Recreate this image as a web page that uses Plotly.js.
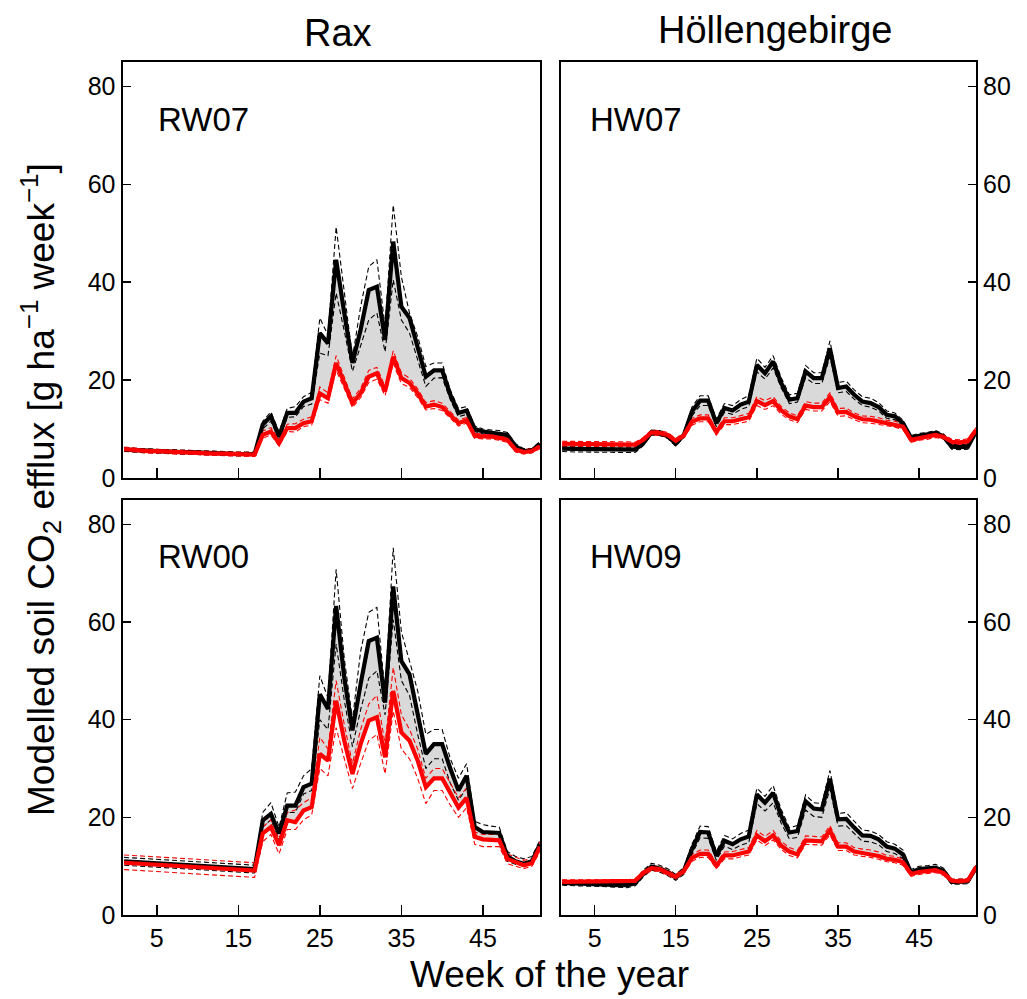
<!DOCTYPE html>
<html>
<head>
<meta charset="utf-8">
<script src="https://cdn.plot.ly/plotly-3.0.1.min.js"></script>
<style>html,body{margin:0;padding:0;background:#fff;}#chart{width:1027px;height:999px;}</style>
</head>
<body>
<div id="chart"></div>
<script>
// Week of the year
const weeks = [1,2,3,4,5,6,7,8,9,10,11,12,13,14,15,16,17,18,19,20,21,22,23,24,25,26,27,28,29,30,31,32,33,34,35,36,37,38,39,40,41,42,43,44,45,46,47,48,49,50,51,52];

// RW07 (Rax, top left)
const rw07_black = [5.8,5.7,5.6,5.5,5.5,5.4,5.4,5.3,5.3,5.2,5.1,5.1,5.0,5.0,4.9,4.9,4.9,10.9,12.6,8.5,13.3,13.3,15.6,16.3,29.6,27.5,44.6,33.7,23.5,30.3,38.4,39.1,28.2,48.3,35.0,32.7,26.9,20.7,22.0,22.0,17.0,13.3,13.8,10.0,9.5,9.3,9.2,8.8,6.5,5.5,5.6,7.0];
const rw07_blackUp = [6.2,6.1,6.0,5.9,5.9,5.8,5.8,5.7,5.7,5.6,5.5,5.5,5.4,5.4,5.3,5.3,5.3,11.6,13.5,9.4,14.2,14.6,16.6,17.5,32.7,29.2,51.3,38.0,24.6,35.0,43.2,44.6,30.9,55.8,41.1,33.7,28.9,22.8,23.5,23.5,18.0,14.2,14.6,10.6,10.0,9.8,9.7,9.3,7.0,6.0,6.0,7.5];
const rw07_blackLo = [5.4,5.3,5.2,5.1,5.1,5.0,5.0,4.9,4.9,4.8,4.7,4.7,4.6,4.6,4.5,4.5,4.5,10.0,11.6,7.8,12.4,12.5,14.6,15.1,25.5,25.0,37.8,30.0,21.8,27.0,32.3,33.7,25.8,40.5,32.3,29.6,24.1,18.7,20.4,20.5,16.0,12.5,13.0,9.5,9.0,8.8,8.7,8.3,6.0,5.1,5.2,6.5];
const rw07_red = [5.9,5.7,5.6,5.5,5.5,5.4,5.3,5.3,5.2,5.2,5.1,5.0,5.0,4.9,4.9,4.8,4.8,8.8,9.5,7.1,10.2,10.2,11.2,11.6,17.3,16.3,23.5,19.4,15.3,17.3,20.7,21.4,17.7,24.8,20.4,19.4,17.3,14.6,15.0,14.5,12.8,11.2,11.8,8.6,8.5,8.5,8.2,7.8,5.8,5.3,5.5,6.5];
const rw07_redUp = [6.3,6.1,6.0,5.9,5.9,5.8,5.7,5.7,5.6,5.6,5.5,5.4,5.4,5.3,5.3,5.2,5.2,9.6,10.3,7.8,11.0,11.1,12.0,12.5,18.6,17.4,25.0,20.6,16.2,18.3,22.0,22.6,18.7,26.0,21.5,20.4,18.2,15.4,15.8,15.3,13.5,11.8,12.4,9.1,9.0,9.0,8.7,8.3,6.3,5.8,6.0,7.0];
const rw07_redLo = [5.5,5.3,5.2,5.1,5.1,5.0,4.9,4.9,4.8,4.8,4.7,4.6,4.6,4.5,4.5,4.4,4.4,8.1,8.8,6.5,9.5,9.4,10.5,10.8,16.0,15.3,22.0,18.3,14.4,16.4,19.5,20.2,16.8,23.4,19.3,18.5,16.4,13.9,14.2,13.8,12.1,10.6,11.2,8.1,8.0,8.0,7.7,7.3,5.3,4.9,5.1,6.0];

// HW07 (Höllengebirge, top right)
const hw07_black = [6.0,5.9,5.9,5.9,5.9,5.9,5.8,5.8,5.8,5.8,7.1,9.3,9.2,8.6,7.0,8.8,13.6,15.8,15.8,11.2,14.3,13.8,15.0,15.6,23.1,21.4,23.8,19.4,16.0,16.3,21.8,20.4,20.4,26.5,18.4,18.7,17.0,15.6,15.3,14.5,12.9,12.6,11.2,8.2,8.6,8.8,9.2,8.5,6.4,6.3,6.4,9.5];
const hw07_blackUp = [6.5,6.4,6.4,6.4,6.4,6.4,6.3,6.3,6.3,6.3,7.6,9.8,9.7,9.1,7.5,9.3,14.5,16.8,16.8,12.0,15.2,14.8,16.0,16.8,24.5,22.6,25.0,20.5,17.0,17.3,23.0,21.5,21.5,28.0,19.5,19.8,18.0,16.6,16.3,15.4,13.7,13.3,11.8,8.7,9.1,9.3,9.7,9.0,6.9,6.8,6.9,10.0];
const hw07_blackLo = [5.4,5.3,5.3,5.3,5.3,5.3,5.2,5.2,5.2,5.2,6.6,8.8,8.7,8.1,6.5,8.3,12.7,14.8,14.8,10.5,13.4,13.0,14.0,14.6,21.7,20.2,22.5,18.4,15.2,15.5,20.5,19.3,19.3,24.8,17.4,17.7,16.1,14.8,14.5,13.7,12.2,11.9,10.6,7.7,8.1,8.3,8.7,8.0,5.9,5.8,5.9,9.0];
const hw07_red = [7.0,7.0,7.0,7.0,7.0,7.0,7.0,7.0,6.9,6.8,7.8,9.3,9.2,8.8,7.6,8.7,11.5,12.2,12.2,9.4,11.6,11.6,12.0,12.4,15.7,14.9,15.7,13.8,12.6,12.0,14.8,14.5,14.5,16.5,13.4,13.5,12.6,12.0,11.9,11.6,11.2,11.0,10.5,7.8,8.2,8.4,8.8,8.4,7.4,7.3,7.5,9.8];
const hw07_redUp = [7.5,7.5,7.5,7.5,7.5,7.5,7.5,7.5,7.4,7.3,8.3,9.8,9.7,9.3,8.1,9.2,12.2,12.9,12.9,10.0,12.3,12.3,12.8,13.2,16.6,15.8,16.6,14.6,13.3,12.7,15.6,15.3,15.3,17.4,14.2,14.3,13.3,12.7,12.6,12.3,11.8,11.6,11.1,8.3,8.7,8.9,9.3,8.9,7.9,7.8,8.0,10.3];
const hw07_redLo = [6.5,6.5,6.5,6.5,6.5,6.5,6.5,6.5,6.4,6.3,7.3,8.8,8.7,8.3,7.1,8.2,10.8,11.5,11.5,8.8,10.9,10.9,11.2,11.6,14.8,14.0,14.8,13.0,11.9,11.3,14.0,13.7,13.7,15.6,12.6,12.7,11.9,11.3,11.2,10.9,10.6,10.4,9.9,7.3,7.7,7.9,8.3,7.9,6.9,6.8,7.0,9.3];

// RW00 (Rax, bottom left)
const rw00_black = [11.0,10.9,10.8,10.7,10.6,10.5,10.4,10.3,10.2,10.1,10.0,9.9,9.8,9.7,9.6,9.5,9.4,19.4,20.7,16.7,22.4,22.4,26.2,26.9,45.2,42.2,63.3,48.6,37.8,47.3,56.1,56.8,43.5,67.3,52.0,49.3,41.2,33.0,35.0,35.0,30.0,25.5,28.5,18.0,17.0,17.0,16.8,12.0,11.0,10.5,11.0,14.5];
const rw00_blackUp = [11.8,11.7,11.6,11.5,11.4,11.3,11.2,11.1,11.0,10.9,10.8,10.7,10.6,10.5,10.4,10.3,10.2,21.0,23.0,18.0,25.0,25.2,28.5,30.0,49.0,44.5,70.8,52.5,40.0,54.0,62.0,63.0,45.5,75.2,58.0,52.0,45.9,37.0,38.0,38.0,32.0,28.0,31.0,19.2,18.5,18.2,18.0,13.0,12.0,11.5,12.0,15.3];
const rw00_blackLo = [10.2,10.1,10.0,9.9,9.8,9.7,9.6,9.5,9.4,9.3,9.2,9.1,9.0,8.9,8.8,8.7,8.6,18.0,19.5,15.5,21.0,21.0,24.8,25.5,40.0,38.0,55.5,44.0,34.5,42.0,48.5,50.0,41.0,60.5,48.0,45.0,37.0,30.0,32.0,32.0,27.0,23.5,26.0,16.5,15.5,15.5,15.5,11.0,10.4,10.0,10.4,13.5];
const rw00_red = [10.7,10.6,10.5,10.4,10.3,10.2,10.1,10.0,9.9,9.8,9.7,9.6,9.5,9.4,9.3,9.2,9.1,16.7,18.0,14.3,19.4,19.0,21.4,22.1,33.0,31.6,43.9,35.7,28.9,35.0,39.8,40.5,32.3,45.9,37.4,35.7,31.6,26.2,28.0,28.0,25.0,22.0,24.0,16.0,15.5,15.5,15.3,11.5,10.8,10.2,10.6,14.0];
const rw00_redUp = [12.3,12.2,12.1,12.0,11.9,11.8,11.7,11.6,11.5,11.4,11.3,11.2,11.1,11.0,10.9,10.8,10.7,18.0,19.5,15.5,21.0,21.5,23.0,24.0,36.4,34.0,48.0,39.0,31.0,38.0,43.2,45.0,35.0,50.7,41.0,38.0,34.0,28.0,30.0,30.0,27.0,24.0,26.0,17.0,16.5,16.5,16.5,12.5,11.8,11.2,11.5,15.0];
const rw00_redLo = [9.3,9.2,9.1,9.0,8.9,8.8,8.7,8.6,8.5,8.4,8.3,8.2,8.1,8.0,7.9,7.8,7.7,15.0,16.5,12.5,17.5,17.5,19.5,20.5,30.0,28.5,38.4,32.0,25.9,31.0,35.7,37.0,28.9,41.8,34.0,32.0,28.0,22.8,25.5,25.5,22.5,20.0,22.0,14.5,14.0,14.0,14.0,10.5,10.0,9.5,10.0,13.0];

// HW09 (Höllengebirge, bottom right)
const hw09_black = [6.6,6.5,6.5,6.4,6.4,6.3,6.2,6.1,6.1,6.5,8.4,9.9,9.5,8.8,7.7,9.0,13.5,17.0,16.9,12.1,15.2,14.5,15.5,16.1,24.7,23.0,25.0,20.3,16.9,17.2,23.3,21.8,21.6,27.9,19.6,19.7,17.9,16.3,16.2,15.5,14.0,13.6,12.4,8.7,9.4,9.5,9.7,9.0,6.8,6.8,6.9,9.7];
const hw09_blackUp = [7.1,7.0,7.0,6.9,6.9,6.8,6.7,6.6,6.6,7.0,9.2,10.6,10.2,9.5,8.3,9.7,14.5,18.2,18.1,13.0,16.3,15.6,16.7,17.4,26.0,24.3,26.5,21.6,17.9,18.3,24.6,23.0,22.8,29.6,20.8,21.0,19.1,17.4,17.2,16.5,15.0,14.5,13.3,9.3,10.0,10.1,10.4,9.6,7.3,7.3,7.4,10.2];
const hw09_blackLo = [6.1,6.0,6.0,5.9,5.9,5.8,5.7,5.6,5.6,6.0,7.8,9.2,8.8,8.1,7.1,8.3,12.5,15.8,15.7,11.2,14.1,13.4,14.3,14.8,22.8,21.3,23.0,18.8,15.6,15.9,21.5,20.2,20.0,25.8,18.2,18.3,16.6,15.1,15.0,14.4,13.0,12.6,11.5,8.1,8.7,8.8,9.0,8.4,6.3,6.3,6.4,9.2];
const hw09_red = [6.8,6.8,6.8,6.8,6.8,6.8,6.8,6.8,6.8,7.0,8.6,9.6,9.4,8.7,7.8,9.0,11.7,12.5,12.5,10.1,12.2,12.2,12.6,13.0,16.3,15.1,16.3,14.2,13.0,12.4,15.3,15.2,15.1,17.3,14.0,14.0,13.0,12.7,12.5,12.1,11.5,11.3,10.8,8.4,8.8,9.0,9.2,8.6,7.0,6.9,7.1,9.8];
const hw09_redUp = [7.2,7.2,7.2,7.2,7.2,7.2,7.2,7.2,7.2,7.4,9.1,10.1,9.9,9.2,8.3,9.5,12.4,13.3,13.3,10.7,12.9,13.0,13.4,13.8,17.3,16.1,17.3,15.1,13.8,13.2,16.2,16.1,16.0,18.3,14.8,14.8,13.8,13.5,13.3,12.9,12.2,12.0,11.4,8.9,9.3,9.5,9.7,9.1,7.4,7.3,7.5,10.2];
const hw09_redLo = [6.4,6.4,6.4,6.4,6.4,6.4,6.4,6.4,6.4,6.6,8.1,9.1,8.9,8.2,7.3,8.5,11.0,11.8,11.8,9.5,11.5,11.5,11.9,12.3,15.4,14.2,15.4,13.4,12.2,11.7,14.5,14.4,14.3,16.4,13.2,13.2,12.3,12.0,11.8,11.4,10.9,10.7,10.2,7.9,8.3,8.5,8.7,8.1,6.6,6.5,6.7,9.3];

const xTickVals = [5,15,25,35,45];
const yTickVals = [0,20,40,60,80];
const columnTitles = ["Rax","Höllengebirge"];
const panelNames = ["RW07","HW07","RW00","HW09"];
const xTitle = "Week of the year";
const yTitle = "Modelled soil CO<sub>2</sub> efflux [g ha<sup>−1</sup> week<sup>−1</sup>]";

const panels = [
  {name: panelNames[0], xa:'x',  ya:'y',  d:[rw07_black,rw07_blackUp,rw07_blackLo,rw07_red,rw07_redUp,rw07_redLo]},
  {name: panelNames[1], xa:'x2', ya:'y2', d:[hw07_black,hw07_blackUp,hw07_blackLo,hw07_red,hw07_redUp,hw07_redLo]},
  {name: panelNames[2], xa:'x3', ya:'y3', d:[rw00_black,rw00_blackUp,rw00_blackLo,rw00_red,rw00_redUp,rw00_redLo]},
  {name: panelNames[3], xa:'x4', ya:'y4', d:[hw09_black,hw09_blackUp,hw09_blackLo,hw09_red,hw09_redUp,hw09_redLo]}
];

const traces = [];
panels.forEach(p => {
  const [bk, bkU, bkL, rd, rdU, rdL] = p.d;
  const base = {x: weeks, xaxis: p.xa, yaxis: p.ya, mode: 'lines', hoverinfo: 'skip', showlegend: false};
  // gray band between black and red thick lines
  traces.push(Object.assign({}, base, {y: rd, line: {width: 0, color: 'rgba(0,0,0,0)'}}));
  traces.push(Object.assign({}, base, {y: bk, fill: 'tonexty', fillcolor: '#d9d9d9', line: {width: 0, color: 'rgba(0,0,0,0)'}}));
  // dashed bounds
  const dash = '5px,3px';
  traces.push(Object.assign({}, base, {y: bkU, line: {color: '#000', width: 1.1, dash: dash}}));
  traces.push(Object.assign({}, base, {y: bkL, line: {color: '#000', width: 1.1, dash: dash}}));
  traces.push(Object.assign({}, base, {y: rdU, line: {color: '#ff0000', width: 1.1, dash: dash}}));
  traces.push(Object.assign({}, base, {y: rdL, line: {color: '#ff0000', width: 1.1, dash: dash}}));
  // thick lines
  traces.push(Object.assign({}, base, {y: bk, line: {color: '#000', width: 4.2}}));
  traces.push(Object.assign({}, base, {y: rd, line: {color: '#ff0000', width: 4.2}}));
});

const W = 1027, H = 999;
const px = v => v / W;
const py = v => 1 - v / H;
const FONT = 'Liberation Sans, Arial, sans-serif';

const xDomL = [px(122.5), px(540)];
const xDomR = [px(560.5), px(976)];
const yDomT = [py(478), py(62)];
const yDomB = [py(915), py(500)];

function xAx(dom, anchor, labels) {
  return {domain: dom, anchor: anchor, range: [0.8, 52], tickvals: xTickVals, ticks: 'inside', ticklen: 10, tickwidth: 1.5,
    tickcolor: '#000', showline: true, mirror: true, linecolor: '#000', linewidth: 2, showgrid: false, zeroline: false,
    showticklabels: labels, tickfont: {family: FONT, size: 25, color: '#000'}, fixedrange: true};
}
function yAx(dom, anchor, side) {
  return {domain: dom, anchor: anchor, side: side, range: [0, 85], tickvals: yTickVals, ticks: 'inside', ticklen: 8, tickwidth: 1.5,
    tickcolor: '#000', showline: true, mirror: true, linecolor: '#000', linewidth: 2, showgrid: false, zeroline: false,
    tickfont: {family: FONT, size: 25, color: '#000'}, fixedrange: true};
}

const annFont = s => ({family: FONT, size: s, color: '#000'});
const annotations = [
  {text: columnTitles[0], x: px(338), y: py(33), xref: 'paper', yref: 'paper', showarrow: false, font: annFont(38), xanchor: 'center', yanchor: 'middle'},
  {text: columnTitles[1], x: px(775), y: py(30), xref: 'paper', yref: 'paper', showarrow: false, font: annFont(38), xanchor: 'center', yanchor: 'middle'},
  {text: xTitle, x: px(549), y: py(974), xref: 'paper', yref: 'paper', showarrow: false, font: annFont(37), xanchor: 'center', yanchor: 'middle'},
  {text: yTitle, x: px(40), y: py(490), xref: 'paper', yref: 'paper', showarrow: false, font: annFont(37), textangle: -90, xanchor: 'center', yanchor: 'middle'},
  {text: panelNames[0], x: px(156), y: py(120), xref: 'paper', yref: 'paper', showarrow: false, font: annFont(33), xanchor: 'left', yanchor: 'middle'},
  {text: panelNames[1], x: px(588), y: py(120), xref: 'paper', yref: 'paper', showarrow: false, font: annFont(33), xanchor: 'left', yanchor: 'middle'},
  {text: panelNames[2], x: px(156), y: py(556), xref: 'paper', yref: 'paper', showarrow: false, font: annFont(33), xanchor: 'left', yanchor: 'middle'},
  {text: panelNames[3], x: px(588), y: py(556), xref: 'paper', yref: 'paper', showarrow: false, font: annFont(33), xanchor: 'left', yanchor: 'middle'}
];

const layout = {
  width: W, height: H, margin: {l: 0, r: 0, t: 0, b: 0},
  paper_bgcolor: '#fff', plot_bgcolor: '#fff', showlegend: false,
  font: {family: FONT, color: '#000'},
  xaxis: xAx(xDomL, 'y', false),  yaxis: yAx(yDomT, 'x', 'left'),
  xaxis2: xAx(xDomR, 'y2', false), yaxis2: yAx(yDomT, 'x2', 'right'),
  xaxis3: xAx(xDomL, 'y3', true),  yaxis3: yAx(yDomB, 'x3', 'left'),
  xaxis4: xAx(xDomR, 'y4', true),  yaxis4: yAx(yDomB, 'x4', 'right'),
  annotations: annotations
};

Plotly.newPlot('chart', traces, layout, {displayModeBar: false, staticPlot: true});
</script>
</body>
</html>
